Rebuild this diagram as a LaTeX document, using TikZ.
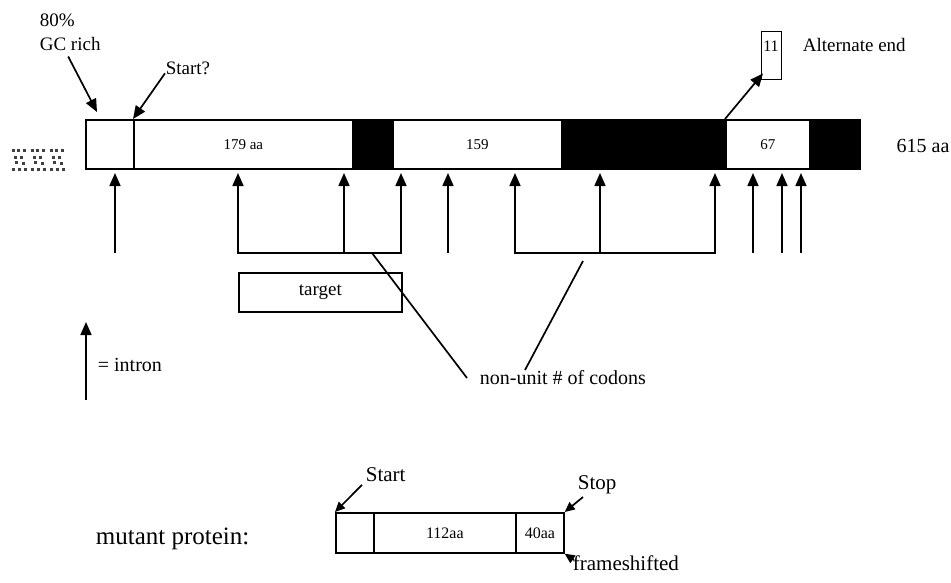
\documentclass[tikz,border=0pt]{standalone}
\usepackage{fontspec}
\setmainfont{Liberation Serif}
\usetikzlibrary{arrows.meta}
\newcommand{\fs}[1]{\fontsize{#1}{#1}\selectfont}

\begin{document}
\begin{tikzpicture}[x=1pt, y=-1pt, line width=1.7pt, >={Triangle[width=11pt,length=13pt]},
    seg/.style={draw, rectangle, inner sep=0pt, minimum height=49pt, anchor=north west, font=\fs{15}},
    blk/.style={seg, fill=black},
    mseg/.style={draw, rectangle, inner sep=0pt, minimum height=40pt, anchor=north west, font=\fs{16}},
    lbl/.style={inner sep=0pt, font=\fs{19}},
    smalltip/.style={>={Triangle[width=9pt,length=10pt]}}]
    \useasboundingbox (0,0) rectangle (951,582);
    % garbled mark left of the gene
    \foreach \gx in {12,31,50}
        \foreach \dx/\dy in {0/0,5/0,11/0,2/7,8/7,3/12,10/13,0/19,6/19,12/19}
            \fill[black!75] (\gx+\dx,149+\dy) rectangle +(3,3);
    % gene bar
    \node[seg, minimum width=48pt] (gc) at (85,119) {};
    \node[seg, minimum width=219pt] (ex1) at (133,119) {179 aa};
    \node[blk, minimum width=40pt] (bk1) at (352,119) {};
    \node[seg, minimum width=169pt] (ex2) at (392,119) {159};
    \node[blk, minimum width=164pt] (bk2) at (561,119) {};
    \node[seg, minimum width=84pt] (ex3) at (725,119) {67};
    \node[blk, minimum width=50pt] (bk3) at (809,119) {};
    \node[lbl, font=\fs{20}] (len) at (923,146) {615 aa};
    % labels above
    \node[lbl, align=left, anchor=north west, font=\fontsize{19}{24}\selectfont] (gcr) at (39,13) {80\%\\GC rich};
    \draw[->] ([xshift=-2pt,yshift=-5pt]gcr.south) -- ([xshift=12pt,yshift=7pt]gc.north west);
    \node[lbl, anchor=west] (st) at (165,68) {Start?};
    \draw[->] ([yshift=2pt]st.south west) -- (ex1.north west);
    \node[draw, line width=1.4pt, inner sep=0pt, minimum width=20pt, minimum height=48pt, anchor=north west] (alt) at (761,31) {};
    \node[inner sep=0pt, font=\fs{16}] (altn) at (771,46) {11};
    \node[lbl, anchor=west] (altl) at (802,45) {Alternate end};
    \draw[->] (ex3.north west) -- ([xshift=2pt,yshift=7pt]alt.south west);
    % introns
    \coordinate (tips) at (0,173);
    \foreach \x [count=\i] in {115,448,753,782,801} {
        \coordinate (in\i) at (\x,253);
        \draw[->] (in\i) -- (in\i |- tips);
    }
    \coordinate (bra) at (238,253);
    \coordinate (brb) at (344,253);
    \coordinate (brc) at (401,253);
    \draw[<->] (bra |- tips) -- (bra) -- (brc) -- (brc |- tips);
    \draw[->] (brb) -- (brb |- tips);
    \coordinate (bsa) at (515,253);
    \coordinate (bsb) at (600,253);
    \coordinate (bsc) at (715,253);
    \draw[<->] (bsa |- tips) -- (bsa) -- (bsc) -- (bsc |- tips);
    \draw[->] (bsb) -- (bsb |- tips);
    % target and codons
    \node[draw, lbl, minimum width=163pt, minimum height=39pt, anchor=north west] (tgt) at (238,272) {target};
    \node[lbl, anchor=west, font=\fs{20}] (nu) at (479,378) {non-unit \# of codons};
    \coordinate (nua) at (372,253);
    \coordinate (nub) at (583,261);
    \draw (nua) -- ([xshift=-12pt]nu.west);
    \draw (nub) -- ([xshift=46pt]nu.north west);
    % legend
    \coordinate (lga) at (86,400);
    \coordinate (lgb) at (86,322);
    \draw[->] (lga) -- (lgb);
    \node[lbl, anchor=west, font=\fs{20}] (lgt) at (97,365) {= intron};
    % mutant protein
    \node[lbl, anchor=west, font=\fs{25}] (mut) at (95,539) {mutant protein:};
    \node[mseg, minimum width=38pt] (mp0) at (335,512) {};
    \node[mseg, minimum width=142pt] (mp1) at (373,512) {112aa};
    \node[mseg, minimum width=48pt] (mp2) at (515,512) {40aa};
    \node[lbl, anchor=west, font=\fs{21}] (mst) at (365,475) {Start};
    \draw[->, smalltip] ([xshift=-3pt,yshift=-2pt]mst.south west) -- (mp0.north west);
    \node[lbl, anchor=west, font=\fs{21}] (msp) at (577,485) {Stop};
    \draw[->, smalltip] ([xshift=6pt,yshift=-2pt]msp.south west) -- (mp2.north east);
    \node[lbl, anchor=west, font=\fs{21}] (frs) at (572,563) {frameshifted};
    \draw[->, smalltip] ([xshift=2pt,yshift=3pt]frs.west) -- (mp2.south east);
\end{tikzpicture}
\end{document}
